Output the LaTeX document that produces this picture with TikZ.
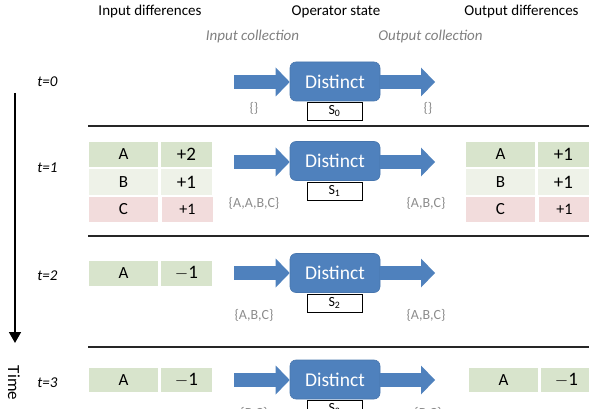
\documentclass[tikz,border=0pt]{standalone}
\usepackage{fontspec}
\setmainfont{Carlito}
\usetikzlibrary{arrows.meta}
\definecolor{opblue}{RGB}{79,129,189}
\definecolor{opedge}{RGB}{72,118,174}
\definecolor{rowA}{RGB}{216,228,204}
\definecolor{rowB}{RGB}{238,242,232}
\definecolor{rowC}{RGB}{242,220,220}
\definecolor{labgray}{RGB}{128,128,128}
\definecolor{setgray}{RGB}{140,140,140}
\newcommand{\fs}[1]{\fontsize{#1}{#1}\selectfont}
\tikzset{
  hdr/.style={inner sep=0pt, font=\fs{15}},
  coll/.style={inner sep=0pt, font=\fs{15}\itshape, text=labgray},
  tlab/.style={inner sep=0pt, font=\fs{15}\itshape},
  setlab/.style={inner sep=0pt, font=\fs{14}, text=setgray},
  op/.style={draw=opedge, fill=opblue, line width=0.6pt, rounded corners=6pt,
    minimum width=90pt, minimum height=39pt, inner sep=0pt,
    text=white, font=\fs{19.5}},
  state/.style={draw=black, fill=white, line width=0.8pt, minimum width=55pt,
    minimum height=18pt, inner sep=0pt, font=\fs{14}},
  cell/.style={inner sep=0pt, minimum height=25.5pt, font=\fs{17}},
  keycol/.style={cell, minimum width=69pt},
  valcol/.style={cell, minimum width=51pt, font=\fs{19}},
  barrow/.style={draw=opblue, line width=14pt,
    -{Triangle[length=14pt, width=29pt, line width=0pt]}},
  sep/.style={line width=1.6pt, draw=black!85},
}
\begin{document}
\begin{tikzpicture}[x=1pt, y=-1pt]
\useasboundingbox (0,0) rectangle (589,409);
\clip (0,0) rectangle (589,409);

% column headings
\node[hdr] (hin)  at (150,12)   {Input differences};
\node[hdr] (hop)  at (336,12)   {Operator state};
\node[hdr] (hout) at (521.5,12) {Output differences};
\node[coll] (cin)  at (252.5,37) {Input collection};
\node[coll] (cout) at (430.5,37) {Output collection};

% time axis
\coordinate (tstart) at (15,93);
\coordinate (tend) at (15,343);
\draw[line width=1.8pt, -{Triangle[length=11pt, width=12pt]}] (tstart) -- (tend);
\node[hdr, rotate=-90, font=\fs{17}] (time) at (14,383) {Time};

% separators between time steps
\draw[sep] (88,126) -- (589,126);
\draw[sep] (88,236) -- (589,236);
\draw[sep] (88,347) -- (589,347);

% ---------- t=0 ----------
\node[tlab] (t0) at (47.5,82) {t=0};
\node[op] (d0) at (335,81.5) {Distinct};
\node[state, anchor=north] (s0) at (334.5,102) {S\textsubscript{0}};
\coordinate (a0) at (234,82);
\coordinate (b0) at (435,82);
\draw[barrow] (a0) -- (d0.west |- a0);
\draw[barrow] (d0.east |- b0) -- (b0);
\node[setlab] (in0)  at (254,108) {\{\}};
\node[setlab] (out0) at (428,108) {\{\}};

% ---------- t=1 ----------
\node[tlab] (t1) at (47.5,168) {t=1};
\node[keycol, fill=rowA] (i1ak) at (123.5,154.5) {A};
\node[valcol, fill=rowA] (i1av) at (186.5,154.5) {+2};
\node[keycol, fill=rowB] (i1bk) at (123.5,182)   {B};
\node[valcol, fill=rowB] (i1bv) at (186.5,182)   {+1};
\node[keycol, fill=rowC] (i1ck) at (123.5,209.5) {C};
\node[valcol, fill=rowC, font=\fs{16}] (i1cv) at (187.5,209.5) {+1};
\node[op] (d1) at (335,161) {Distinct};
\node[state, anchor=north] (s1) at (334.5,181.5) {S\textsubscript{1}};
\coordinate (a1) at (234,162);
\coordinate (b1) at (435,162);
\draw[barrow] (a1) -- (d1.west |- a1);
\draw[barrow] (d1.east |- b1) -- (b1);
\node[setlab] (in1)  at (254,203) {\{A,A,B,C\}};
\node[setlab] (out1) at (426,203) {\{A,B,C\}};
\node[keycol, fill=rowA] (o1ak) at (500.5,154.5) {A};
\node[valcol, fill=rowA] (o1av) at (563.5,154.5) {+1};
\node[keycol, fill=rowB] (o1bk) at (500.5,182)   {B};
\node[valcol, fill=rowB] (o1bv) at (563.5,182)   {+1};
\node[keycol, fill=rowC] (o1ck) at (500.5,209.5) {C};
\node[valcol, fill=rowC, font=\fs{16}] (o1cv) at (564.5,209.5) {+1};

% ---------- t=2 ----------
\node[tlab] (t2) at (47.5,276) {t=2};
\node[keycol, fill=rowA, minimum height=25pt] (i2ak) at (123.5,273.5) {A};
\node[valcol, fill=rowA, minimum height=25pt] (i2av) at (186.5,273.5) {$-$1};
\node[op] (d2) at (335,273) {Distinct};
\node[state, anchor=north] (s2) at (334.5,293.5) {S\textsubscript{2}};
\coordinate (a2) at (234,273);
\coordinate (b2) at (435,273);
\draw[barrow] (a2) -- (d2.west |- a2);
\draw[barrow] (d2.east |- b2) -- (b2);
\node[setlab] (in2)  at (254,315) {\{A,B,C\}};
\node[setlab] (out2) at (426,315) {\{A,B,C\}};

% ---------- t=3 ----------
\node[tlab] (t3) at (47.5,383) {t=3};
\node[keycol, fill=rowA, minimum height=24pt] (i3ak) at (123.5,380) {A};
\node[valcol, fill=rowA, minimum height=24pt] (i3av) at (186.5,380) {$-$1};
\node[op] (d3) at (335,379.5) {Distinct};
\node[state, anchor=north] (s3) at (334.5,400) {S\textsubscript{3}};
\coordinate (a3) at (234,380);
\coordinate (b3) at (435,380);
\draw[barrow] (a3) -- (d3.west |- a3);
\draw[barrow] (d3.east |- b3) -- (b3);
\node[setlab] (in3)  at (254,413) {\{B,C\}};
\node[setlab] (out3) at (428,413) {\{B,C\}};
\node[keycol, fill=rowA, minimum height=24pt] (o3ak) at (503.5,380) {A};
\node[valcol, fill=rowA, minimum height=24pt] (o3av) at (566.5,380) {$-$1};
\end{tikzpicture}
\end{document}
